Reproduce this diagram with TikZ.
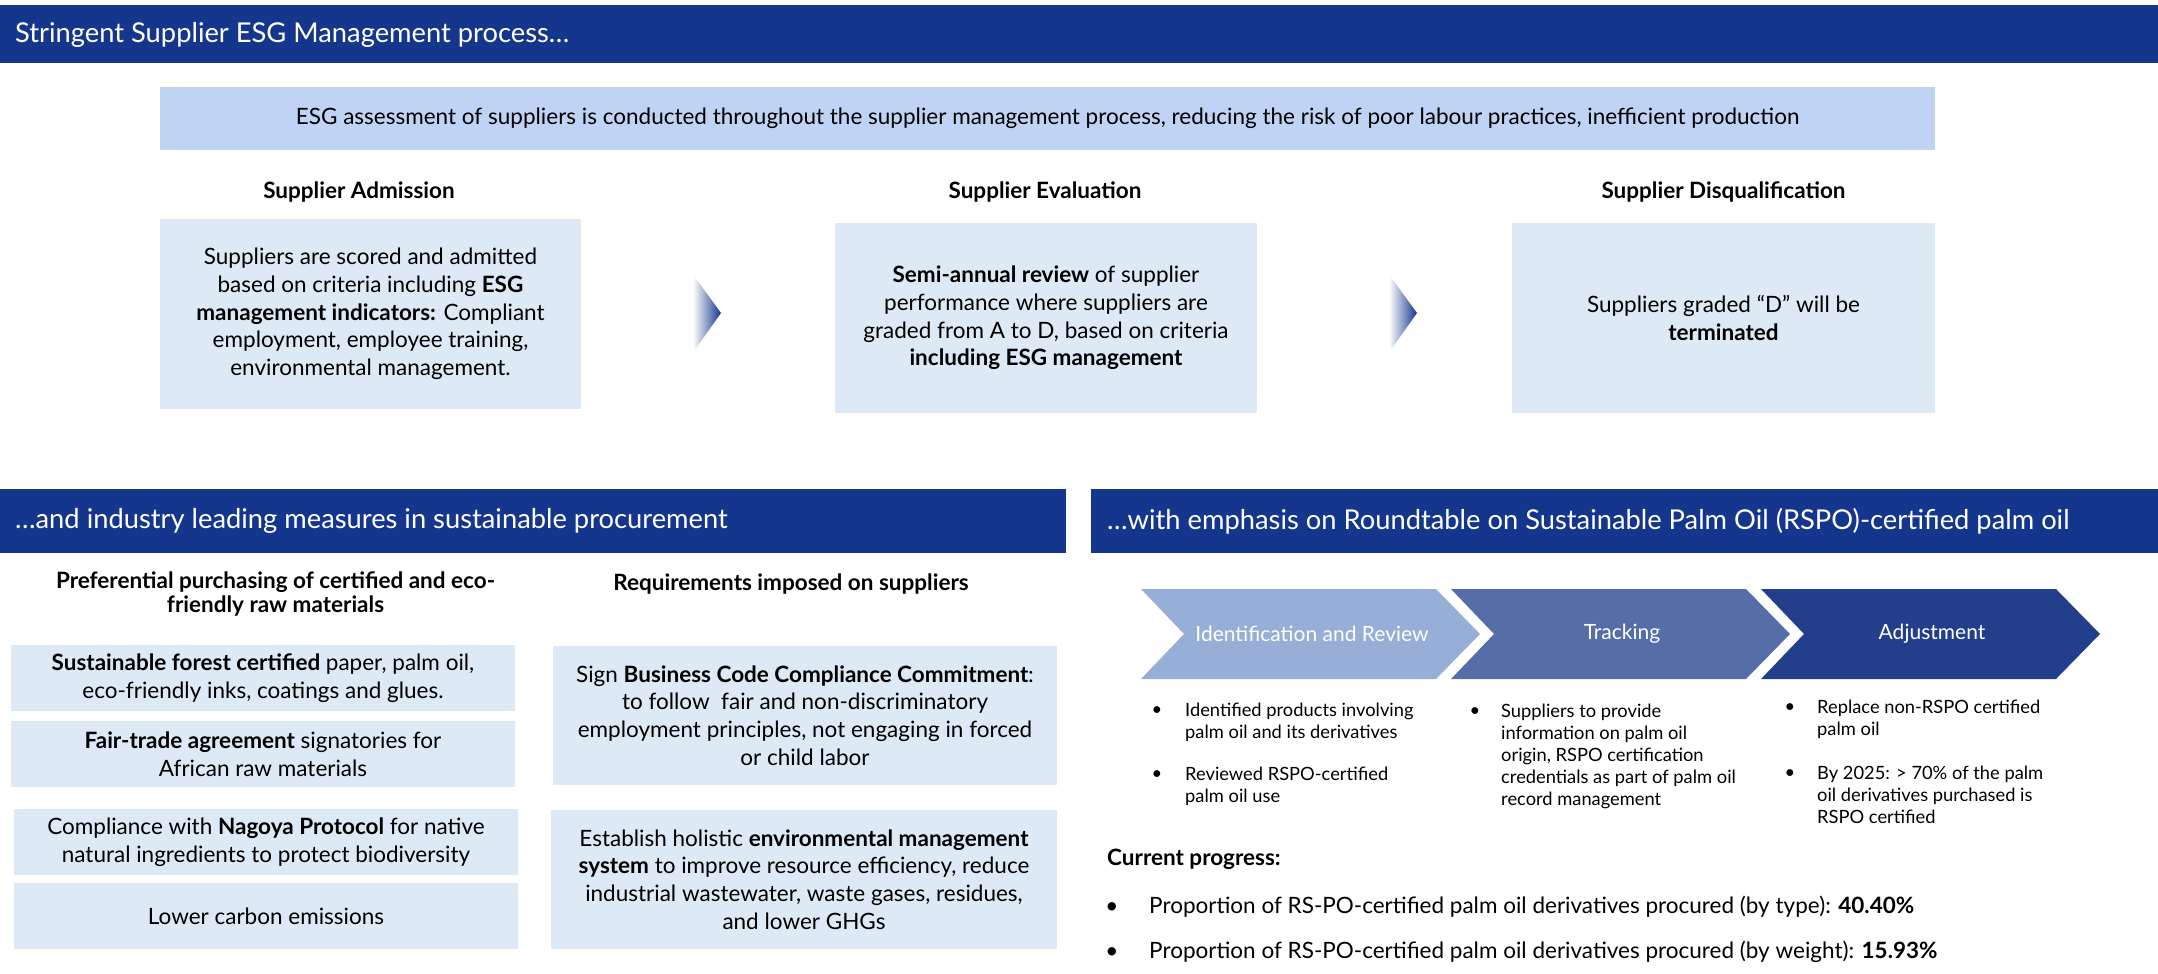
\documentclass[tikz,border=0pt]{standalone}
\usepackage{xcolor}
\usepackage{fontspec}
\setmainfont{Lato}
\usepackage{tikz}
\usetikzlibrary{positioning}

\definecolor{bannerblue}{RGB}{21,54,141}
\definecolor{introblue}{RGB}{193,211,245}
\definecolor{boxblue}{RGB}{221,234,246}
\definecolor{stepone}{RGB}{151,174,214}
\definecolor{steptwo}{RGB}{86,110,168}
\definecolor{stepthree}{RGB}{35,62,138}

\newcommand{\bodysize}{\fontsize{22.5}{27.7}\selectfont}
\newcommand{\titlesize}{\fontsize{27.3}{32}\selectfont}
\newcommand{\notesize}{\fontsize{18.3}{22}\selectfont}

\begin{document}
\begin{tikzpicture}[x=1pt, y=-1pt, every node/.style={inner sep=0pt},
    banner/.style={fill=bannerblue},
    title/.style={anchor=west, text=white, font=\titlesize},
    infobox/.style={fill=boxblue, align=center, font=\bodysize},
    heading/.style={align=center, font=\bodysize\bfseries},
    steplabel/.style={text=white, font=\fontsize{21}{25}\selectfont},
    note/.style={anchor=north west, align=left, font=\notesize},
    bul/.style={font=\notesize}]
    \useasboundingbox (0,0) rectangle (2158,974);

    % Supplier management process
    \fill[banner] (0,5) rectangle (2158,63);
    \node[title] (toptitle) at (15,35) {Stringent Supplier ESG Management process…};
    \node[fill=introblue, minimum width=1775, minimum height=63, font=\bodysize] (intro) at (1047.5,118.5)
        {ESG assessment of suppliers is conducted throughout the supplier management process, reducing the risk of poor labour practices, inefficient production};

    \node[heading] (admhead) at (359,192) {Supplier Admission};
    \node[heading] (evahead) at (1045,192) {Supplier Evaluation};
    \node[heading] (dishead) at (1723.5,192) {Supplier Disqualification};

    \node[infobox, minimum width=421, minimum height=190] (admit) at (370.5,314)
        {Suppliers are scored and admitted\\based on criteria including \textbf{ESG}\\\textbf{management indicators:} Compliant\\employment, employee training,\\environmental management.};
    \node[infobox, minimum width=422, minimum height=190] (evalu) at (1046,318)
        {\textbf{Semi-annual review} of supplier\\performance where suppliers are\\graded from A to D, based on criteria\\\textbf{including ESG management}};
    \node[infobox, minimum width=423, minimum height=190] (disq) at (1723.5,318)
        {Suppliers graded “D” will be\\\textbf{terminated}};

    \shade[left color=bannerblue!4, right color=bannerblue] (694,276) -- (721,313) -- (694,351) -- cycle;
    \shade[left color=bannerblue!4, right color=bannerblue] (1390,276) -- (1417,313) -- (1390,351) -- cycle;

    % Sustainable procurement
    \fill[banner] (0,489) rectangle (1066,553);
    \node[title] (proctitle) at (15,521) {…and industry leading measures in sustainable procurement};

    \node[heading, font=\fontsize{22.5}{24.5}\selectfont\bfseries] (prefhead) at (275.5,594)
        {Preferential purchasing of certified and eco-\\friendly raw materials};
    \node[heading] (reqhead) at (791,584) {Requirements imposed on suppliers};

    \node[infobox, minimum width=504, minimum height=66] (forest) at (263,678)
        {\textbf{Sustainable forest certified} paper, palm oil,\\eco-friendly inks, coatings and glues.};
    \node[infobox, minimum width=504, minimum height=66] (fairtrade) at (263,754)
        {\textbf{Fair-trade agreement} signatories for\\African raw materials};
    \node[infobox, minimum width=504, minimum height=66] (nagoya) at (266,842)
        {Compliance with \textbf{Nagoya Protocol} for native\\natural ingredients to protect biodiversity};
    \node[infobox, minimum width=504, minimum height=66] (carbon) at (266,916)
        {Lower carbon emissions};

    \node[infobox, minimum width=504, minimum height=139] (conduct) at (805,715.5)
        {Sign \textbf{Business Code Compliance Commitment}:\\to follow~ fair and non-discriminatory\\employment principles, not engaging in forced\\or child labor};
    \node[infobox, minimum width=506, minimum height=139] (envsys) at (804,879.5)
        {Establish holistic \textbf{environmental management}\\\textbf{system} to improve resource efficiency, reduce\\industrial wastewater, waste gases, residues,\\and lower GHGs};

    % RSPO palm oil
    \fill[banner] (1091,489) rectangle (2158,553);
    \node[title] (rspotitle) at (1107,521) {…with emphasis on Roundtable on Sustainable Palm Oil (RSPO)-certified palm oil};

    \foreach \lx/\col/\sname/\lbl in {1141/stepone/ident/Identification and Review,
        1451/steptwo/track/Tracking, 1761/stepthree/adjust/Adjustment}{
        \fill[\col] (\lx,589) -- ++(295,0) -- ++(44,45) -- ++(-44,45) -- ++(-295,0) -- ++(43,-45) -- cycle;
        \node[steplabel] (\sname) at (\lx+171,634) {\lbl};
    }

    \node[bul] (dotia) at (1157,711) {\textbullet};
    \node[note] (noteia) at (1185,703) {Identified products involving\\palm oil and its derivatives};
    \node[bul] (dotib) at (1157,775) {\textbullet};
    \node[note] (noteib) at (1185,767) {Reviewed RSPO-certified\\palm oil use};

    \node[bul] (dotta) at (1475,712) {\textbullet};
    \node[note] (noteta) at (1501,704) {Suppliers to provide\\information on palm oil\\origin, RSPO certification\\credentials as part of palm oil\\record management};

    \node[bul] (dotaa) at (1790,708) {\textbullet};
    \node[note] (noteaa) at (1817,700) {Replace non-RSPO certified\\palm oil};
    \node[bul] (dotab) at (1790,774) {\textbullet};
    \node[note] (noteab) at (1817,766) {By 2025: > 70\% of the palm\\oil derivatives purchased is\\RSPO certified};

    \node[anchor=base west, font=\bodysize\bfseries] (progress) at (1107,865) {Current progress:};
    \node[anchor=base, font=\bodysize] (dotpa) at (1112,913) {\textbullet};
    \node[anchor=base west, font=\bodysize] (progtype) at (1149,913)
        {Proportion of RS-PO-certified palm oil derivatives procured (by type): \textbf{40.40\%}};
    \node[anchor=base, font=\bodysize] (dotpb) at (1112,958) {\textbullet};
    \node[anchor=base west, font=\bodysize] (progweight) at (1149,958)
        {Proportion of RS-PO-certified palm oil derivatives procured (by weight): \textbf{15.93\%}};
\end{tikzpicture}
\end{document}
